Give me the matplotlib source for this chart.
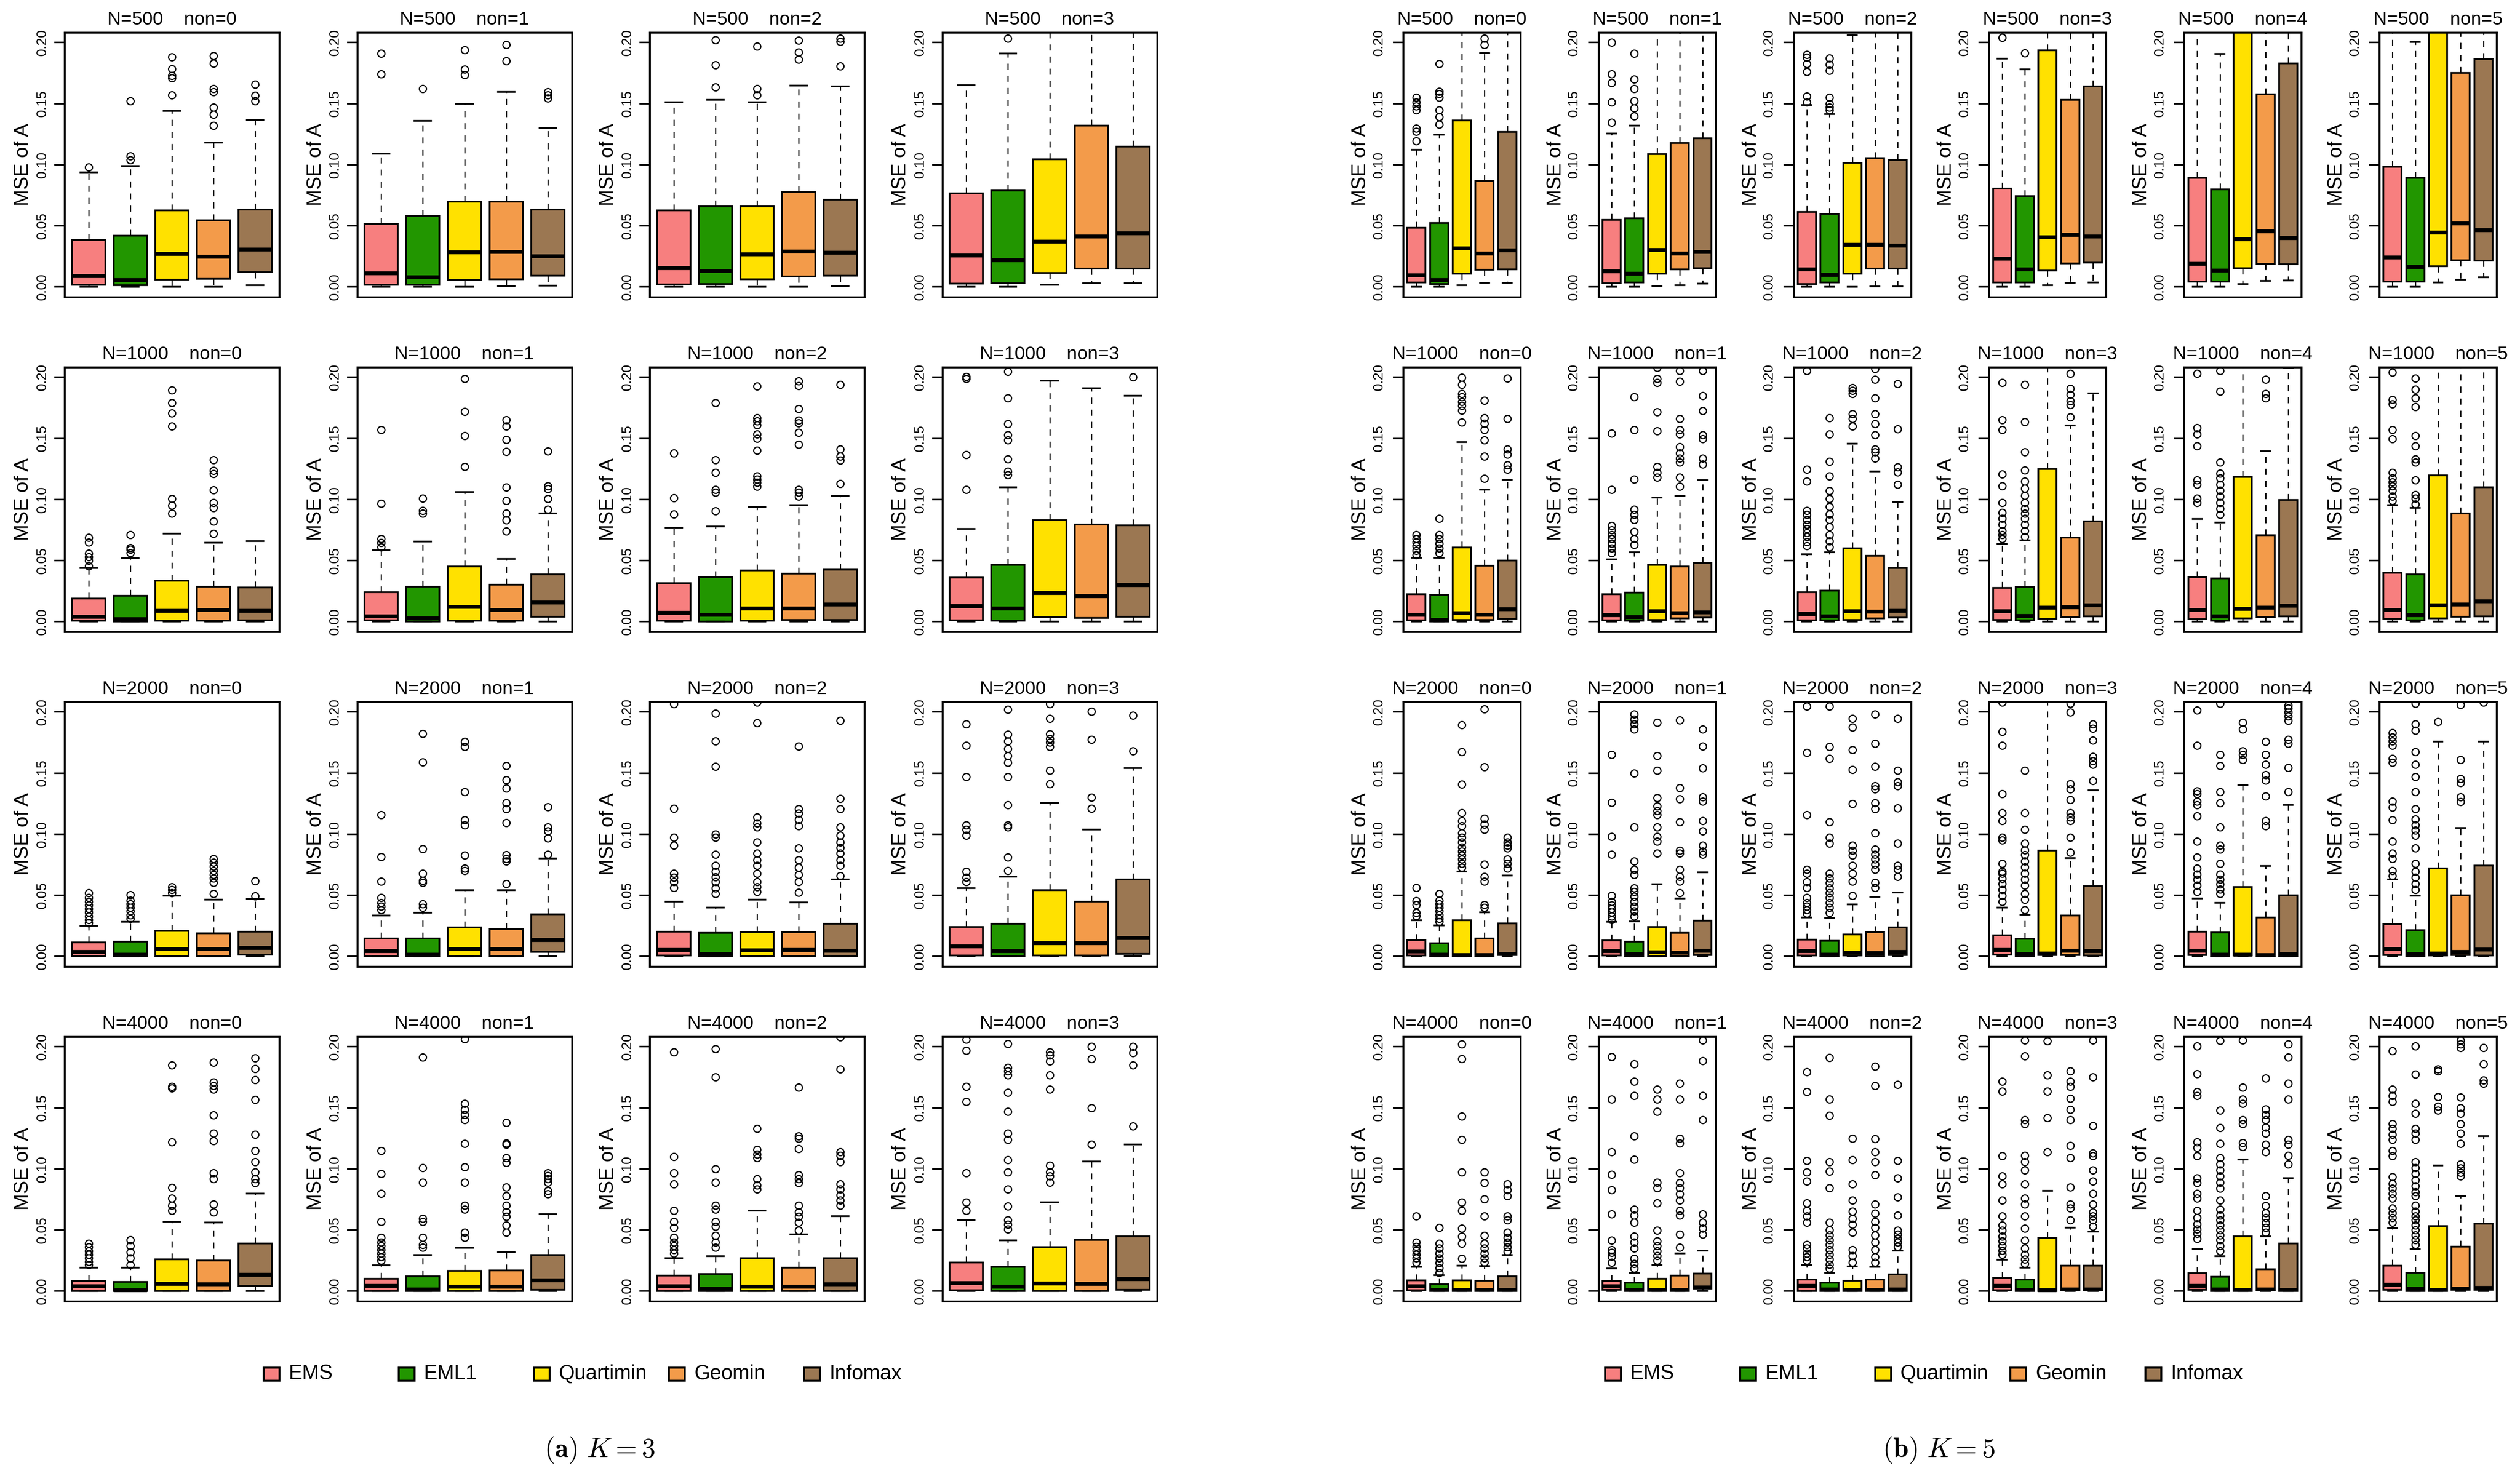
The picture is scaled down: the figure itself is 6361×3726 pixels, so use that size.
import matplotlib
matplotlib.use("Agg")
import matplotlib.pyplot as plt
from matplotlib.patches import Rectangle

plt.rcParams['font.family'] = ['Liberation Sans', 'DejaVu Sans']
plt.rcParams['mathtext.fontset'] = 'cm'

METHODS = ['EMS', 'EML1', 'Quartimin', 'Geomin', 'Infomax']
COLORS = ['#F77F7F', '#229600', '#FFE100', '#F39B4A', '#9B7752']
N_VALUES = [500, 1000, 2000, 4000]

# box stats per panel: (whisker low, q1, median, q3, whisker high) for the 5 methods
# ---------------- K = 3 ----------------
k3_n500 = [
    [(0.0, 0.0017, 0.0088, 0.0385, 0.0937), (0.0, 0.0013, 0.0058, 0.0418, 0.099), (0.0, 0.0061, 0.027, 0.0628, 0.144), (0.0, 0.0066, 0.0248, 0.0545, 0.118), (0.0013, 0.012, 0.0306, 0.0633, 0.1367)],
    [(0.0, 0.0017, 0.0112, 0.0517, 0.109), (0.0, 0.0017, 0.0078, 0.058, 0.136), (0.0, 0.0056, 0.0284, 0.0698, 0.150), (0.0008, 0.0063, 0.0288, 0.0698, 0.1595), (0.0012, 0.0091, 0.0251, 0.0633, 0.130)],
    [(0.0, 0.002, 0.0154, 0.0628, 0.151), (0.0, 0.0025, 0.0132, 0.066, 0.153), (0.0, 0.0063, 0.0268, 0.066, 0.151), (0.0, 0.0086, 0.029, 0.0777, 0.1648), (0.0007, 0.0091, 0.0281, 0.0714, 0.164)],
    [(0.0, 0.0028, 0.0256, 0.0767, 0.165), (0.0, 0.003, 0.022, 0.079, 0.191), (0.0017, 0.0116, 0.0372, 0.1046, 0.25), (0.003, 0.015, 0.0413, 0.132, 0.25), (0.003, 0.015, 0.044, 0.115, 0.25)],
]
k3_n500_out = [
    [[0.098], [0.104, 0.107, 0.152], [0.157, 0.171, 0.173, 0.1785, 0.188], [0.132, 0.141, 0.147, 0.1595, 0.162, 0.183, 0.189], [0.152, 0.1565, 0.1656]],
    [[0.174, 0.191], [0.162], [0.1735, 0.178, 0.194], [0.185, 0.198], [0.1545, 0.157, 0.1595]],
    [[], [0.1636, 0.1815, 0.202], [0.157, 0.162, 0.1967], [0.186, 0.192, 0.2017], [0.1805, 0.2008, 0.2033]],
    [[], [0.2033], [], [], []],
]
k3_n1000 = [
    [(0.0, 0.0008, 0.0041, 0.0188, 0.044), (0.0, 0.0003, 0.002, 0.0213, 0.052), (0.0, 0.0007, 0.009, 0.0336, 0.072), (0.0, 0.0007, 0.0096, 0.0288, 0.0646), (0.0, 0.0012, 0.009, 0.028, 0.066)],
    [(0.0, 0.0012, 0.0044, 0.0242, 0.0585), (0.0, 0.0003, 0.0028, 0.0287, 0.0657), (0.0, 0.0008, 0.0122, 0.0451, 0.106), (0.0, 0.0008, 0.0097, 0.0303, 0.0514), (0.0, 0.0041, 0.0157, 0.0386, 0.0885)],
    [(0.0, 0.0008, 0.0074, 0.0316, 0.077), (0.0, 0.0003, 0.0056, 0.0366, 0.078), (0.0, 0.0008, 0.011, 0.0418, 0.0937), (0.0, 0.0015, 0.011, 0.0395, 0.0954), (0.0, 0.0016, 0.014, 0.0427, 0.103)],
    [(0.0, 0.001, 0.0127, 0.0362, 0.076), (0.0, 0.0008, 0.0107, 0.0465, 0.110), (0.0, 0.0036, 0.0234, 0.083, 0.197), (0.0, 0.003, 0.021, 0.0794, 0.191), (0.0, 0.004, 0.030, 0.079, 0.185)],
]
k3_n1000_out = [
    [[0.0456, 0.050, 0.053, 0.056, 0.065, 0.069], [0.0563, 0.059, 0.0605, 0.071], [0.0885, 0.095, 0.1005, 0.160, 0.1705, 0.179, 0.1895], [0.072, 0.082, 0.093, 0.0975, 0.1077, 0.121, 0.1236, 0.1325], []],
    [[0.061, 0.0646, 0.068, 0.0967, 0.157], [0.0885, 0.091, 0.101], [0.1267, 0.152, 0.172, 0.1989], [0.074, 0.083, 0.0885, 0.099, 0.110, 0.139, 0.149, 0.160, 0.165], [0.092, 0.1005, 0.1087, 0.111, 0.1395]],
    [[0.088, 0.1013, 0.138], [0.0904, 0.1058, 0.108, 0.122, 0.1325, 0.179], [0.1107, 0.114, 0.1165, 0.119, 0.140, 0.1497, 0.1535, 0.161, 0.164, 0.1667, 0.1926], [0.1025, 0.1058, 0.108, 0.145, 0.1547, 0.1626, 0.1647, 0.174, 0.193, 0.1967], [0.1128, 0.132, 0.1354, 0.141, 0.194]],
    [[0.108, 0.1366, 0.1989, 0.2005], [0.12, 0.123, 0.133, 0.1486, 0.1527, 0.1618, 0.183, 0.2046], [], [], [0.2]],
]
k3_n2000 = [
    [(0.0, 0.0003, 0.0036, 0.0115, 0.025), (0.0, 0.0, 0.0016, 0.0122, 0.0283), (0.0, 0.0003, 0.006, 0.021, 0.0497), (0.0, 0.0003, 0.006, 0.019, 0.0465), (0.0, 0.0016, 0.0069, 0.0204, 0.047)],
    [(0.0, 0.0003, 0.0044, 0.0147, 0.0336), (0.0, 0.0003, 0.0015, 0.0147, 0.0357), (0.0, 0.0003, 0.006, 0.0239, 0.0544), (0.0, 0.0003, 0.006, 0.0226, 0.0542), (0.0, 0.0036, 0.0135, 0.0344, 0.0802)],
    [(0.0, 0.0007, 0.0053, 0.0204, 0.045), (0.0, 0.0, 0.002, 0.0193, 0.040), (0.0, 0.0003, 0.005, 0.0198, 0.0465), (0.0, 0.0003, 0.0053, 0.0198, 0.0443), (0.0, 0.0003, 0.0048, 0.0267, 0.063)],
    [(0.0, 0.0007, 0.0082, 0.0242, 0.0558), (0.0, 0.0003, 0.0044, 0.0267, 0.0654), (0.0, 0.0007, 0.0109, 0.0544, 0.1255), (0.0, 0.0007, 0.011, 0.0448, 0.104), (0.0, 0.002, 0.015, 0.063, 0.154)],
]
k3_n2000_out = [
    [[0.0275, 0.030, 0.033, 0.036, 0.039, 0.042, 0.045, 0.048, 0.052], [0.031, 0.034, 0.037, 0.040, 0.043, 0.046, 0.0505], [0.052, 0.0547, 0.057], [0.0514, 0.0605, 0.064, 0.067, 0.070, 0.0737, 0.077, 0.080], [0.0494, 0.0618]],
    [[0.038, 0.041, 0.044, 0.048, 0.0613, 0.0814, 0.1157], [0.040, 0.043, 0.0605, 0.062, 0.068, 0.088, 0.159, 0.1824], [0.0703, 0.072, 0.0827, 0.1074, 0.1115, 0.1346, 0.1717, 0.1758], [0.0596, 0.0778, 0.080, 0.083, 0.1094, 0.1206, 0.1255, 0.1376, 0.1445, 0.156], [0.0835, 0.0967, 0.1025, 0.1058, 0.1222]],
    [[0.0563, 0.061, 0.0646, 0.068, 0.091, 0.0975, 0.121, 0.2066], [0.0514, 0.056, 0.061, 0.065, 0.0695, 0.0745, 0.0835, 0.0975, 0.100, 0.1555, 0.176, 0.1989], [0.053, 0.057, 0.061, 0.068, 0.0745, 0.079, 0.0843, 0.0934, 0.1058, 0.109, 0.114, 0.191, 0.208], [0.0522, 0.061, 0.067, 0.0728, 0.079, 0.0885, 0.1066, 0.112, 0.117, 0.1206, 0.172], [0.066, 0.0745, 0.079, 0.0843, 0.089, 0.0934, 0.099, 0.1058, 0.1206, 0.129, 0.193]],
    [[0.061, 0.0646, 0.0695, 0.099, 0.104, 0.1074, 0.147, 0.1725, 0.190], [0.0703, 0.081, 0.1058, 0.1074, 0.124, 0.147, 0.1585, 0.164, 0.170, 0.176, 0.1815, 0.202], [0.141, 0.152, 0.1717, 0.175, 0.178, 0.182, 0.1947, 0.2066], [0.121, 0.13, 0.1774, 0.2005], [0.168, 0.197]],
]
k3_n4000 = [
    [(0.0, 0.0, 0.0041, 0.0082, 0.0193), (0.0, 0.0, 0.0008, 0.0077, 0.0193), (0.0, 0.0, 0.006, 0.0262, 0.0567), (0.0, 0.0, 0.0056, 0.025, 0.0563), (0.0, 0.0044, 0.0135, 0.039, 0.080)],
    [(0.0, 0.0, 0.0044, 0.0102, 0.0213), (0.0, 0.0, 0.0015, 0.0122, 0.0295), (0.0, 0.0, 0.0036, 0.0168, 0.0354), (0.0, 0.0, 0.0036, 0.0171, 0.032), (0.0, 0.0012, 0.0089, 0.0295, 0.063)],
    [(0.0, 0.0, 0.0041, 0.0127, 0.0272), (0.0, 0.0, 0.002, 0.014, 0.0287), (0.0, 0.0, 0.0036, 0.027, 0.066), (0.0, 0.0, 0.0036, 0.0193, 0.0465), (0.0, 0.0, 0.0058, 0.027, 0.0613)],
    [(0.0, 0.0007, 0.0066, 0.0234, 0.058), (0.0, 0.0, 0.0036, 0.0198, 0.0415), (0.0, 0.0, 0.0064, 0.036, 0.0728), (0.0, 0.0, 0.006, 0.042, 0.106), (0.0, 0.001, 0.01, 0.045, 0.12)],
]
k3_n4000_out = [
    [[0.0217, 0.024, 0.027, 0.030, 0.033, 0.036, 0.039], [0.0217, 0.027, 0.032, 0.037, 0.042], [0.066, 0.070, 0.076, 0.0847, 0.122, 0.166, 0.1675, 0.185], [0.0646, 0.071, 0.0918, 0.0967, 0.123, 0.129, 0.144, 0.165, 0.168, 0.171, 0.187], [0.0885, 0.092, 0.0975, 0.1058, 0.115, 0.128, 0.1565, 0.173, 0.182, 0.1906]],
    [[0.025, 0.028, 0.031, 0.034, 0.037, 0.040, 0.044, 0.0567, 0.080, 0.096, 0.115], [0.0357, 0.038, 0.044, 0.057, 0.0596, 0.089, 0.1008, 0.1914], [0.044, 0.048, 0.067, 0.070, 0.089, 0.1016, 0.1206, 0.140, 0.1445, 0.1486, 0.1535, 0.2063], [0.048, 0.054, 0.061, 0.065, 0.070, 0.078, 0.085, 0.105, 0.109, 0.12, 0.121, 0.138], [0.0794, 0.082, 0.089, 0.092, 0.0945, 0.0967]],
    [[0.031, 0.034, 0.037, 0.040, 0.044, 0.052, 0.057, 0.066, 0.0876, 0.0967, 0.110, 0.1955], [0.0357, 0.040, 0.0456, 0.053, 0.057, 0.067, 0.070, 0.089, 0.100, 0.175, 0.198], [0.0835, 0.0868, 0.092, 0.109, 0.112, 0.1157, 0.133], [0.0497, 0.0563, 0.061, 0.0646, 0.070, 0.0885, 0.092, 0.095, 0.1165, 0.125, 0.127, 0.1667], [0.070, 0.0745, 0.0786, 0.0835, 0.0876, 0.1058, 0.111, 0.114, 0.1816, 0.208]],
    [[0.066, 0.0728, 0.0967, 0.155, 0.1675, 0.1967, 0.206], [0.0506, 0.0547, 0.058, 0.0695, 0.0835, 0.0975, 0.1074, 0.124, 0.129, 0.147, 0.1626, 0.1766, 0.18, 0.183, 0.2025], [0.089, 0.094, 0.0975, 0.103, 0.165, 0.1766, 0.188, 0.193, 0.1955], [0.12, 0.15, 0.19, 0.2], [0.135, 0.185, 0.195, 0.2]],
]

# ---------------- K = 5 ----------------
k5_n500 = [
    [(0.0, 0.0036, 0.0094, 0.0483, 0.1124), (0.0, 0.0025, 0.0058, 0.0524, 0.1245), (0.0013, 0.011, 0.0317, 0.1364, 0.25), (0.0033, 0.014, 0.0273, 0.0868, 0.1912), (0.0033, 0.0145, 0.030, 0.1268, 0.25)],
    [(0.0, 0.003, 0.0127, 0.0549, 0.1256), (0.0, 0.0036, 0.0107, 0.0562, 0.132), (0.0008, 0.011, 0.0302, 0.1086, 0.25), (0.0013, 0.0145, 0.0273, 0.1177, 0.25), (0.0028, 0.0154, 0.0286, 0.1215, 0.25)],
    [(0.0, 0.0025, 0.0145, 0.0615, 0.1488), (0.0, 0.0036, 0.0099, 0.0598, 0.1413), (0.0, 0.0107, 0.0344, 0.1017, 0.206), (0.0005, 0.0152, 0.0344, 0.1053, 0.25), (0.0005, 0.0149, 0.0339, 0.1038, 0.25)],
    [(0.0, 0.0038, 0.0231, 0.0805, 0.1868), (0.0, 0.0036, 0.0145, 0.0744, 0.178), (0.0013, 0.0136, 0.0405, 0.1937, 0.25), (0.0033, 0.0193, 0.0425, 0.1532, 0.25), (0.0036, 0.0198, 0.0413, 0.164, 0.25)],
    [(0.0, 0.0045, 0.019, 0.0893, 0.25), (0.0, 0.0045, 0.0136, 0.0798, 0.1906), (0.0025, 0.0154, 0.039, 0.23, 0.3), (0.005, 0.019, 0.0455, 0.1575, 0.25), (0.0053, 0.0185, 0.040, 0.183, 0.25)],
    [(0.0, 0.0045, 0.024, 0.0983, 0.25), (0.0, 0.0045, 0.0165, 0.0893, 0.2005), (0.0038, 0.017, 0.0446, 0.23, 0.3), (0.006, 0.022, 0.052, 0.175, 0.25), (0.0078, 0.0215, 0.0466, 0.1864, 0.25)],
]
k5_n500_out = [
    [[0.1195, 0.1273, 0.1298, 0.1446, 0.148, 0.151, 0.155], [0.133, 0.139, 0.1446, 0.155, 0.158, 0.160, 0.1826], [], [0.198, 0.2033], []],
    [[0.1347, 0.151, 0.167, 0.174, 0.20], [0.1397, 0.1463, 0.152, 0.162, 0.1698, 0.191], [], [], []],
    [[0.151, 0.156, 0.176, 0.1826, 0.1876, 0.190], [0.1446, 0.147, 0.150, 0.155, 0.177, 0.182, 0.187], [], [], []],
    [[0.204], [0.1914], [], [], []],
    [[], [], [], [], []],
    [[], [], [], [], []],
]
k5_n1000 = [
    [(0.0, 0.0012, 0.0056, 0.0226, 0.0522), (0.0, 0.0, 0.0015, 0.022, 0.0522), (0.0, 0.0016, 0.0069, 0.0608, 0.147), (0.0, 0.0016, 0.0058, 0.046, 0.108), (0.0, 0.0025, 0.0102, 0.050, 0.116)],
    [(0.0, 0.0012, 0.0053, 0.0226, 0.051), (0.0, 0.0008, 0.0036, 0.0237, 0.057), (0.0, 0.0016, 0.0086, 0.0465, 0.1017), (0.0, 0.0028, 0.0069, 0.0453, 0.1028), (0.0, 0.0033, 0.0077, 0.0481, 0.1157)],
    [(0.0, 0.0012, 0.0064, 0.0242, 0.0552), (0.0, 0.0012, 0.0044, 0.0254, 0.057), (0.0, 0.0016, 0.0086, 0.060, 0.1456), (0.0, 0.0028, 0.0081, 0.0539, 0.123), (0.0, 0.0033, 0.0089, 0.044, 0.0979)],
    [(0.0, 0.0016, 0.0086, 0.0278, 0.0638), (0.0, 0.0012, 0.0048, 0.0283, 0.0666), (0.0, 0.0025, 0.0115, 0.125, 0.25), (0.0, 0.0036, 0.0119, 0.0687, 0.1605), (0.0, 0.0044, 0.0135, 0.0822, 0.1868)],
    [(0.0, 0.002, 0.0097, 0.0366, 0.084), (0.0, 0.0008, 0.0044, 0.0356, 0.081), (0.0, 0.0028, 0.0105, 0.1185, 0.25), (0.0, 0.0036, 0.0114, 0.0707, 0.1395), (0.0, 0.0044, 0.013, 0.0995, 0.2076)],
    [(0.0, 0.0025, 0.0097, 0.0399, 0.0954), (0.0, 0.0012, 0.0053, 0.0387, 0.093), (0.0, 0.0028, 0.0135, 0.1198, 0.25), (0.0, 0.0041, 0.014, 0.0885, 0.25), (0.0, 0.0044, 0.0168, 0.110, 0.25)],
]
k5_n1000_out = [
    [[0.0547, 0.058, 0.062, 0.065, 0.068, 0.071], [0.0563, 0.060, 0.064, 0.068, 0.071, 0.0843], [0.163, 0.173, 0.1766, 0.18, 0.184, 0.1865, 0.194, 0.1997], [0.117, 0.1354, 0.1486, 0.157, 0.162, 0.1667, 0.181], [0.1247, 0.128, 0.137, 0.141, 0.166, 0.199]],
    [[0.0563, 0.060, 0.064, 0.068, 0.071, 0.075, 0.0786, 0.108, 0.154], [0.063, 0.068, 0.0736, 0.0835, 0.0876, 0.092, 0.1165, 0.157, 0.184], [0.118, 0.122, 0.127, 0.156, 0.1717, 0.1955, 0.1989, 0.208], [0.1107, 0.118, 0.1305, 0.1338, 0.138, 0.143, 0.1535, 0.157, 0.166, 0.1964, 0.2054], [0.1288, 0.1338, 0.1494, 0.1527, 0.1725, 0.185, 0.2054]],
    [[0.062, 0.0654, 0.0695, 0.0728, 0.076, 0.0794, 0.0835, 0.0876, 0.091, 0.1148, 0.1247, 0.2054], [0.061, 0.066, 0.071, 0.0775, 0.0835, 0.088, 0.094, 0.1005, 0.107, 0.119, 0.131, 0.1535, 0.1667], [0.160, 0.166, 0.170, 0.1865, 0.189, 0.1914], [0.1338, 0.1387, 0.141, 0.1527, 0.1618, 0.170, 0.183, 0.198, 0.207], [0.1124, 0.1222, 0.1264, 0.1577, 0.1947]],
    [[0.068, 0.0712, 0.0745, 0.0794, 0.0843, 0.0893, 0.0975, 0.111, 0.1206, 0.157, 0.165, 0.1955], [0.0695, 0.0745, 0.0794, 0.0843, 0.0885, 0.0926, 0.0975, 0.1033, 0.109, 0.1148, 0.124, 0.1387, 0.1634, 0.194], [], [0.1675, 0.1774, 0.1807, 0.1857, 0.1906, 0.203], []],
    [[0.0975, 0.1008, 0.1124, 0.1157, 0.1437, 0.1535, 0.1585, 0.203], [0.0876, 0.0926, 0.0975, 0.1025, 0.1074, 0.1124, 0.1173, 0.1214, 0.1305, 0.1885, 0.2054], [], [0.183, 0.1865, 0.198], []],
    [[0.099, 0.1025, 0.1074, 0.111, 0.1141, 0.1173, 0.122, 0.1494, 0.157, 0.178, 0.1815, 0.2038], [0.096, 0.1008, 0.104, 0.1157, 0.1305, 0.133, 0.1437, 0.152, 0.1758, 0.183, 0.190, 0.199], [], [], []],
]
k5_n2000 = [
    [(0.0, 0.0007, 0.0041, 0.0135, 0.0295), (0.0, 0.0, 0.0015, 0.011, 0.0254), (0.0, 0.0, 0.0012, 0.0295, 0.0695), (0.0, 0.0, 0.0012, 0.0148, 0.0362), (0.0, 0.0012, 0.002, 0.0272, 0.0662)],
    [(0.0, 0.0007, 0.0044, 0.013, 0.0283), (0.0, 0.0, 0.002, 0.0122, 0.0287), (0.0, 0.0, 0.0033, 0.0242, 0.059), (0.0, 0.0, 0.0031, 0.0193, 0.0476), (0.0, 0.0012, 0.0048, 0.0292, 0.069)],
    [(0.0, 0.0007, 0.0044, 0.0138, 0.032), (0.0, 0.0, 0.0015, 0.0127, 0.0316), (0.0, 0.0007, 0.0031, 0.0181, 0.0427), (0.0, 0.0, 0.0028, 0.0198, 0.0486), (0.0, 0.0012, 0.0036, 0.0237, 0.0522)],
    [(0.0, 0.0016, 0.0053, 0.0173, 0.040), (0.0, 0.0, 0.002, 0.0143, 0.0341), (0.0, 0.0012, 0.0023, 0.0868, 0.25), (0.0, 0.0012, 0.0048, 0.0336, 0.0806), (0.0, 0.0007, 0.0044, 0.0575, 0.136)],
    [(0.0, 0.0012, 0.0048, 0.0204, 0.0476), (0.0, 0.0, 0.0016, 0.0196, 0.044), (0.0, 0.0007, 0.0016, 0.0568, 0.140), (0.0, 0.0, 0.0012, 0.032, 0.074), (0.0, 0.0, 0.002, 0.050, 0.124)],
    [(0.0, 0.0012, 0.0061, 0.0264, 0.063), (0.0, 0.0, 0.002, 0.0217, 0.0497), (0.0, 0.0007, 0.0023, 0.072, 0.1758), (0.0, 0.0012, 0.0036, 0.050, 0.105), (0.0, 0.0007, 0.0058, 0.0745, 0.1758)],
]
k5_n2000_out = [
    [[0.0333, 0.0357, 0.0423, 0.0456, 0.0563], [0.0283, 0.031, 0.034, 0.037, 0.040, 0.043, 0.046, 0.0514], [0.0728, 0.076, 0.0794, 0.0827, 0.086, 0.0893, 0.0934, 0.0975, 0.1008, 0.1066, 0.111, 0.1173, 0.1407, 0.1675, 0.1893], [0.040, 0.0423, 0.0613, 0.0654, 0.0753, 0.104, 0.108, 0.113, 0.155, 0.2025], [0.072, 0.076, 0.0794, 0.0885, 0.091, 0.0934, 0.0975]],
    [[0.030, 0.033, 0.036, 0.039, 0.042, 0.045, 0.0498, 0.0835, 0.098, 0.126, 0.165], [0.033, 0.037, 0.041, 0.045, 0.049, 0.053, 0.056, 0.067, 0.071, 0.0778, 0.1058, 0.1497, 0.1857, 0.19, 0.194, 0.198], [0.0843, 0.094, 0.098, 0.1058, 0.1157, 0.119, 0.123, 0.1297, 0.152, 0.164, 0.1914], [0.052, 0.0613, 0.0654, 0.071, 0.0843, 0.0868, 0.110, 0.1288, 0.138, 0.1934], [0.0835, 0.086, 0.091, 0.1025, 0.111, 0.127, 0.1305, 0.154, 0.172, 0.1857]],
    [[0.035, 0.038, 0.041, 0.044, 0.048, 0.0563, 0.061, 0.068, 0.071, 0.1157, 0.1667, 0.2046], [0.0357, 0.040, 0.044, 0.048, 0.052, 0.056, 0.060, 0.064, 0.068, 0.0926, 0.0975, 0.110, 0.1618, 0.1717, 0.2046], [0.0498, 0.0613, 0.068, 0.0745, 0.0827, 0.0868, 0.091, 0.125, 0.1527, 0.169, 0.1873, 0.1947], [0.0563, 0.0605, 0.071, 0.0753, 0.0794, 0.0835, 0.0876, 0.1008, 0.1206, 0.1255, 0.137, 0.1395, 0.1555, 0.174, 0.198], [0.0654, 0.071, 0.0745, 0.0926, 0.1214, 0.1395, 0.1428, 0.152, 0.1947]],
    [[0.0448, 0.0497, 0.0547, 0.0596, 0.0638, 0.068, 0.0695, 0.076, 0.095, 0.0975, 0.111, 0.1173, 0.133, 0.1725, 0.184, 0.208], [0.038, 0.0465, 0.0514, 0.058, 0.063, 0.068, 0.073, 0.078, 0.083, 0.087, 0.0926, 0.104, 0.1173, 0.152], [], [0.085, 0.0975, 0.111, 0.114, 0.1173, 0.128, 0.137, 0.141, 0.1997, 0.207], [0.1437, 0.157, 0.160, 0.1634, 0.1766, 0.1865, 0.19]],
    [[0.053, 0.058, 0.063, 0.0672, 0.072, 0.081, 0.094, 0.1148, 0.124, 0.127, 0.133, 0.1354, 0.1725, 0.2013], [0.0514, 0.055, 0.059, 0.063, 0.0672, 0.076, 0.0876, 0.091, 0.1058, 0.1255, 0.1346, 0.156, 0.165, 0.207], [0.161, 0.165, 0.168, 0.1857, 0.1914], [0.1066, 0.111, 0.131, 0.144, 0.1486, 0.157, 0.165, 0.1758], [0.1346, 0.1544, 0.174, 0.1775, 0.193, 0.1964, 0.1997, 0.203, 0.2054]],
    [[0.066, 0.070, 0.080, 0.0843, 0.094, 0.1115, 0.122, 0.127, 0.1585, 0.1618, 0.1725, 0.176, 0.1794, 0.183], [0.0547, 0.0596, 0.0646, 0.0695, 0.076, 0.0885, 0.099, 0.1033, 0.1074, 0.1124, 0.1206, 0.1346, 0.147, 0.157, 0.1675, 0.185, 0.19, 0.207], [0.192], [0.1264, 0.1305, 0.142, 0.1453, 0.161, 0.206], [0.208]],
]
k5_n4000 = [
    [(0.0, 0.0007, 0.0041, 0.0089, 0.020), (0.0, 0.0, 0.0012, 0.0058, 0.013), (0.0, 0.0, 0.0012, 0.0089, 0.021), (0.0, 0.0, 0.0012, 0.0086, 0.0206), (0.0, 0.0, 0.0012, 0.0122, 0.0295)],
    [(0.0, 0.0012, 0.004, 0.0081, 0.0185), (0.0, 0.0, 0.0012, 0.0069, 0.0152), (0.0, 0.0, 0.0012, 0.0102, 0.0217), (0.0, 0.0, 0.0012, 0.0127, 0.031), (0.0, 0.002, 0.0031, 0.0143, 0.0333)],
    [(0.0, 0.0003, 0.0044, 0.0094, 0.0217), (0.0, 0.0, 0.0015, 0.0069, 0.0152), (0.0, 0.0, 0.0012, 0.0086, 0.0204), (0.0, 0.0, 0.0012, 0.0094, 0.020), (0.0, 0.0, 0.0016, 0.0138, 0.0333)],
    [(0.0, 0.0007, 0.0044, 0.011, 0.0259), (0.0, 0.0, 0.0012, 0.0094, 0.0193), (0.0, 0.0, 0.0007, 0.0435, 0.0822), (0.0, 0.0007, 0.0016, 0.0209, 0.0519), (0.0, 0.0007, 0.0016, 0.0209, 0.0489)],
    [(0.0, 0.0012, 0.0044, 0.0148, 0.0344), (0.0, 0.0, 0.0016, 0.0119, 0.0287), (0.0, 0.0, 0.0012, 0.0448, 0.1077), (0.0, 0.0007, 0.0016, 0.0181, 0.0448), (0.0, 0.0, 0.0012, 0.039, 0.0926)],
    [(0.0, 0.0012, 0.0053, 0.0209, 0.0517), (0.0, 0.0, 0.002, 0.0152, 0.0346), (0.0, 0.0, 0.0012, 0.0534, 0.1028), (0.0, 0.0012, 0.002, 0.0366, 0.078), (0.0, 0.0012, 0.0028, 0.0552, 0.127)],
]
k5_n4000_out = [
    [[0.0234, 0.027, 0.030, 0.0333, 0.0366, 0.040, 0.0613], [0.0152, 0.019, 0.023, 0.027, 0.031, 0.035, 0.039, 0.052], [0.0267, 0.039, 0.0448, 0.0514, 0.066, 0.0728, 0.0975, 0.124, 0.143, 0.19, 0.2021], [0.0234, 0.027, 0.031, 0.035, 0.039, 0.0456, 0.0613, 0.0753, 0.0885, 0.0975], [0.0325, 0.036, 0.040, 0.044, 0.048, 0.058, 0.0613, 0.0778, 0.0827, 0.0876]],
    [[0.0234, 0.0283, 0.0316, 0.034, 0.0415, 0.063, 0.0827, 0.0954, 0.114, 0.157, 0.1918], [0.0185, 0.0226, 0.0267, 0.035, 0.040, 0.0448, 0.0563, 0.062, 0.067, 0.1077, 0.127, 0.16, 0.1717, 0.1857], [0.025, 0.029, 0.033, 0.037, 0.041, 0.0497, 0.072, 0.0843, 0.0888, 0.147, 0.157, 0.165], [0.0357, 0.0465, 0.062, 0.066, 0.0745, 0.0794, 0.0843, 0.0885, 0.0967, 0.121, 0.125, 0.157, 0.170], [0.0465, 0.0514, 0.0563, 0.063, 0.140, 0.16, 0.1885, 0.2054]],
    [[0.025, 0.028, 0.031, 0.035, 0.038, 0.0563, 0.0613, 0.066, 0.072, 0.090, 0.0975, 0.1066, 0.163, 0.1794], [0.0185, 0.022, 0.026, 0.030, 0.034, 0.038, 0.042, 0.046, 0.050, 0.0563, 0.0843, 0.098, 0.1058, 0.1437, 0.157, 0.191], [0.0234, 0.029, 0.034, 0.048, 0.0547, 0.0596, 0.0654, 0.0745, 0.0876, 0.1074, 0.125], [0.0234, 0.028, 0.034, 0.040, 0.046, 0.052, 0.057, 0.0638, 0.071, 0.095, 0.1058, 0.114, 0.1247, 0.168, 0.184], [0.0366, 0.040, 0.043, 0.0465, 0.0497, 0.062, 0.077, 0.0926, 0.1066, 0.169]],
    [[0.030, 0.0333, 0.037, 0.041, 0.045, 0.0497, 0.054, 0.0613, 0.0745, 0.0876, 0.094, 0.1107, 0.1634, 0.1717], [0.0226, 0.026, 0.030, 0.035, 0.0415, 0.0514, 0.0613, 0.071, 0.076, 0.0876, 0.099, 0.1058, 0.111, 0.137, 0.140, 0.1923, 0.2054], [0.114, 0.1417, 0.1634, 0.1766, 0.2046], [0.058, 0.068, 0.071, 0.0852, 0.109, 0.119, 0.140, 0.1486, 0.1577, 0.1675, 0.1717, 0.180], [0.053, 0.058, 0.0613, 0.0646, 0.071, 0.080, 0.090, 0.099, 0.1107, 0.113, 0.1354, 0.175, 0.2054]],
    [[0.043, 0.047, 0.0507, 0.055, 0.060, 0.066, 0.076, 0.080, 0.0885, 0.0926, 0.1107, 0.1173, 0.122, 0.16, 0.163, 0.1778, 0.2005], [0.033, 0.037, 0.042, 0.046, 0.050, 0.054, 0.058, 0.062, 0.067, 0.0745, 0.084, 0.089, 0.094, 0.099, 0.104, 0.109, 0.1206, 0.1338, 0.148, 0.205], [0.118, 0.1214, 0.137, 0.140, 0.1535, 0.157, 0.1667, 0.2054], [0.048, 0.052, 0.056, 0.060, 0.064, 0.0698, 0.0778, 0.114, 0.12, 0.129, 0.134, 0.140, 0.1445, 0.149, 0.174], [0.104, 0.111, 0.12, 0.124, 0.157, 0.170, 0.1914, 0.2021]],
    [[0.0563, 0.060, 0.064, 0.068, 0.076, 0.080, 0.084, 0.088, 0.0934, 0.1107, 0.1148, 0.124, 0.128, 0.133, 0.137, 0.155, 0.160, 0.165, 0.1964], [0.038, 0.042, 0.046, 0.050, 0.054, 0.058, 0.0613, 0.0654, 0.070, 0.0778, 0.081, 0.086, 0.091, 0.096, 0.101, 0.1058, 0.124, 0.129, 0.133, 0.1453, 0.1535, 0.1774, 0.2005], [0.148, 0.151, 0.159, 0.18, 0.1815], [0.094, 0.097, 0.1007, 0.104, 0.1206, 0.129, 0.137, 0.1453, 0.150, 0.1585, 0.199, 0.2021, 0.2054], [0.170, 0.1725, 0.1857, 0.199]],
]

YTICKS = [0.0, 0.05, 0.10, 0.15, 0.20]

W, H, DPI = 6361, 3726, 100
fig = plt.figure(figsize=(W / DPI, H / DPI), dpi=DPI)


def px_axes(left, top, w, h):
    return fig.add_axes([left / W, 1 - (top + h) / H, w / W, h / H])


def draw_panel(ax, stats, outs, title, tick_pad, lab_off):
    bx = []
    for (lo, q1, med, q3, hi), fl in zip(stats, outs):
        bx.append(dict(whislo=lo, q1=q1, med=med, q3=q3, whishi=hi, fliers=fl))
    art = ax.bxp(bx, positions=range(1, 6), widths=0.8, capwidths=0.4,
                 patch_artist=True, manage_ticks=False,
                 boxprops=dict(linewidth=3.2, edgecolor='black'),
                 whiskerprops=dict(linewidth=2.2, color='black', linestyle=(0, (5, 5))),
                 capprops=dict(linewidth=3.2, color='black'),
                 medianprops=dict(linewidth=7, color='black', solid_capstyle='butt'),
                 flierprops=dict(marker='o', markersize=13, markerfacecolor='none',
                                 markeredgecolor='black', markeredgewidth=2.2, linestyle='none'))
    for patch, c in zip(art['boxes'], COLORS):
        patch.set_facecolor(c)
    ax.set_xlim(0.42, 5.58)
    ax.set_ylim(-0.0083, 0.2083)
    ax.set_xticks([])
    ax.set_yticks(YTICKS, ['%.2f' % t for t in YTICKS])
    ax.tick_params(axis='y', length=19, width=2.8, labelsize=25, pad=tick_pad, labelrotation=90)
    for lab in ax.get_yticklabels():
        lab.set_va('center')
        lab.set_ha('right')
    for sp in ax.spines.values():
        sp.set_linewidth(3.5)
    ax.set_title(title, fontsize=34, pad=14)
    ax.annotate('MSE of A', xy=(0, 0.5), xycoords='axes fraction', xytext=(-lab_off, 0),
                textcoords='offset pixels', rotation=90, ha='right', va='center', fontsize=36)


ROW_TOP = [81.6 + 845 * i for i in range(4)]
ROW_H = 668.5

groups = [
    ([k3_n500, k3_n1000, k3_n2000, k3_n4000],
     [k3_n500_out, k3_n1000_out, k3_n2000_out, k3_n4000_out],
     163, 738.5, 542, 10, 82),
    ([k5_n500, k5_n1000, k5_n2000, k5_n4000],
     [k5_n500_out, k5_n1000_out, k5_n2000_out, k5_n4000_out],
     3542, 492.8, 296, 14, 85),
]

for rows, outs, x0, dx, w, tpad, loff in groups:
    for i, (row, orow) in enumerate(zip(rows, outs)):
        for j, (st, fl) in enumerate(zip(row, orow)):
            ax = px_axes(x0 + dx * j, ROW_TOP[i], w, ROW_H)
            draw_panel(ax, st, fl, 'N=%d    non=%d' % (N_VALUES[i], j), tpad, loff)

# legends and captions
LEG_Y = 3468
for x0 in (665, 665 + 3386):
    for k, (name, col) in enumerate(zip(METHODS, COLORS)):
        x = x0 + 341 * k
        fig.add_artist(Rectangle((x / W, 1 - (LEG_Y + 16.5) / H), 40 / W, 33 / H,
                                 transform=fig.transFigure, facecolor=col,
                                 edgecolor='black', linewidth=3.5))
        fig.text((x + 64) / W, 1 - LEG_Y / H, name, fontsize=37, ha='left', va='center')

fig.text(1513 / W, 1 - 3660 / H, r'$(\mathbf{a})\ K=3$', fontsize=50, ha='center', va='center')
fig.text(4894 / W, 1 - 3660 / H, r'$(\mathbf{b})\ K=5$', fontsize=50, ha='center', va='center')

fig.savefig('out.png', dpi=DPI, facecolor='white')
